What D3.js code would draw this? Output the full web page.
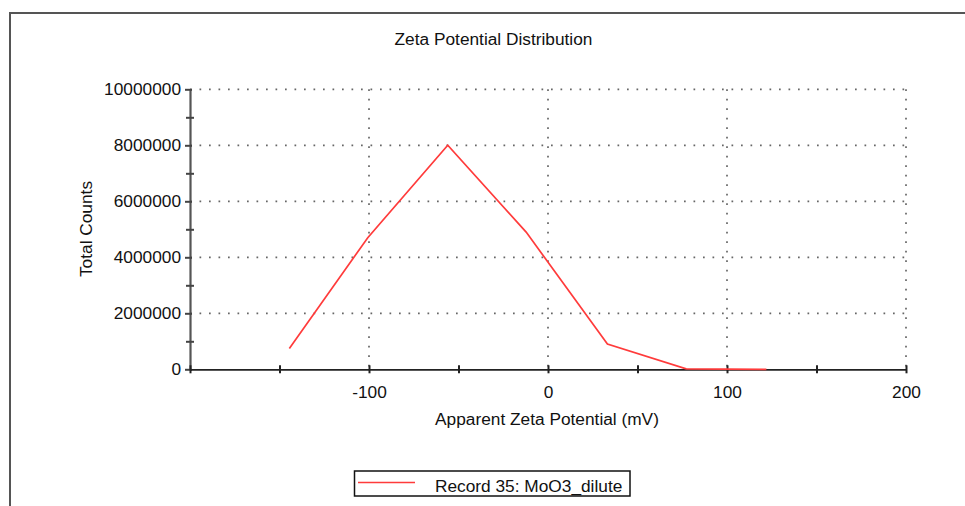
<!DOCTYPE html>
<html>
<head>
<meta charset="utf-8">
<script src="https://cdn.jsdelivr.net/npm/d3@7"></script>
<style>
  html, body { margin: 0; padding: 0; background: #fff; }
  svg { display: block; font-family: "Liberation Sans", Arial, sans-serif; }
</style>
</head>
<body>
<svg id="chart" width="965" height="506"></svg>
<script>
// ---- data ----
const chartTitle = "Zeta Potential Distribution";
const xAxisTitle = "Apparent Zeta Potential (mV)";
const yAxisTitle = "Total Counts";
const seriesName = "Record 35: MoO3_dilute";
const zetaPotential = [-144.5, -100.7, -56.0, -12.2, 33.2, 77.2, 122.0];
const totalCounts   = [740000, 4700000, 8000000, 4900000, 900000, 15000, 0];
const xMajorTicks = [-100, 0, 100, 200];
const xMinorTicks = [-200, -150, -50, 50, 150];
const yMajorTicks = [0, 2000000, 4000000, 6000000, 8000000, 10000000];
const yMinorTicks = [1000000, 3000000, 5000000, 7000000, 9000000];
const xDomain = [-200, 200];
const yDomain = [0, 10000000];

// ---- drawing ----
(function () {
const svg = d3.select("#chart");
const pLeft = 190, pRight = 906, pTop = 89.3, pBottom = 369.3;
const x = d3.scaleLinear().domain(xDomain).range([pLeft, pRight]);
const y = d3.scaleLinear().domain(yDomain).range([pBottom, pTop]);
const textColor = "#111";
const fs = 17.3;
const fmt = d => String(d);

// outer frame
svg.append("rect")
  .attr("x", 10).attr("y", 13).attr("width", 1000).attr("height", 600)
  .attr("fill", "none").attr("stroke", "#555").attr("stroke-width", 2);

// title
svg.append("text")
  .attr("x", 493.5).attr("y", 45)
  .attr("text-anchor", "middle")
  .attr("font-size", fs).attr("fill", textColor)
  .text(chartTitle);

// gridlines
const grid = svg.append("g")
  .attr("stroke", "#666").attr("stroke-width", 1.7)
  .attr("stroke-dasharray", "1.7,7.8").attr("fill", "none");
grid.selectAll("line.h").data(yMajorTicks.filter(d => d > 0)).join("line")
  .attr("class", "h")
  .attr("x1", pLeft).attr("x2", pRight)
  .attr("y1", d => y(d)).attr("y2", d => y(d));
grid.selectAll("line.v").data(xMajorTicks).join("line")
  .attr("class", "v")
  .attr("x1", d => x(d)).attr("x2", d => x(d))
  .attr("y1", pTop).attr("y2", pBottom);

// y axis
const yAxis = d3.axisLeft(y).tickValues(yMajorTicks).tickFormat(fmt)
  .tickSizeInner(5).tickSizeOuter(0).tickPadding(4);
const gy = svg.append("g").attr("transform", `translate(${pLeft},0)`).call(yAxis);
gy.select(".domain").attr("stroke", "#555").attr("stroke-width", 2.2);
gy.selectAll(".tick line").attr("stroke", "#444").attr("stroke-width", 2)
  .attr("x1", 2);
gy.selectAll(".tick text").attr("font-size", fs).attr("fill", textColor)
  .attr("font-family", "Liberation Sans, Arial, sans-serif");
const yMinorAxis = d3.axisLeft(y).tickValues(yMinorTicks).tickFormat("").tickSizeInner(4).tickSizeOuter(0);
const gym = svg.append("g").attr("transform", `translate(${pLeft},0)`).call(yMinorAxis);
gym.select(".domain").remove();
gym.selectAll(".tick line").attr("stroke", "#444").attr("stroke-width", 2).attr("x1", 4);

// x axis
const xAxis = d3.axisBottom(x).tickValues(xMajorTicks).tickFormat(fmt)
  .tickSizeInner(4).tickSizeOuter(0).tickPadding(12);
const gx = svg.append("g").attr("transform", `translate(0,${pBottom})`).call(xAxis);
gx.select(".domain").attr("stroke", "#222").attr("stroke-width", 1.8);
gx.selectAll(".tick line").attr("stroke", "#222").attr("stroke-width", 2).attr("y1", -4);
gx.selectAll(".tick text").attr("font-size", fs).attr("fill", textColor)
  .attr("font-family", "Liberation Sans, Arial, sans-serif");
const xMinorAxis = d3.axisBottom(x).tickValues(xMinorTicks).tickFormat("").tickSizeInner(4).tickSizeOuter(0);
const gxm = svg.append("g").attr("transform", `translate(0,${pBottom})`).call(xMinorAxis);
gxm.select(".domain").remove();
gxm.selectAll(".tick line").attr("stroke", "#222").attr("stroke-width", 2).attr("y1", -4);

// axis titles
svg.append("text")
  .attr("x", 547).attr("y", 425)
  .attr("text-anchor", "middle")
  .attr("font-size", fs).attr("fill", textColor)
  .text(xAxisTitle);
svg.append("text")
  .attr("transform", "translate(92,229) rotate(-90)")
  .attr("text-anchor", "middle")
  .attr("font-size", fs).attr("fill", textColor)
  .text(yAxisTitle);

// data line
const pts = zetaPotential.map((v, i) => [v, totalCounts[i]]);
svg.append("path")
  .datum(pts)
  .attr("fill", "none").attr("stroke", "#ff3b3b").attr("stroke-width", 1.7)
  .attr("stroke-linejoin", "miter")
  .attr("d", d3.line().x(d => x(d[0])).y(d => y(d[1])));

// legend
const lg = svg.append("g");
lg.append("rect")
  .attr("x", 354.5).attr("y", 471).attr("width", 275.5).attr("height", 25)
  .attr("fill", "#fff").attr("stroke", "#111").attr("stroke-width", 1.5);
lg.append("line")
  .attr("x1", 358).attr("x2", 415).attr("y1", 482.5).attr("y2", 482.5)
  .attr("stroke", "#ff3b3b").attr("stroke-width", 1.7);
lg.append("text")
  .attr("x", 435).attr("y", 491.5)
  .attr("font-size", fs).attr("fill", textColor)
  .text(seriesName);
})();
</script>
</body>
</html>
